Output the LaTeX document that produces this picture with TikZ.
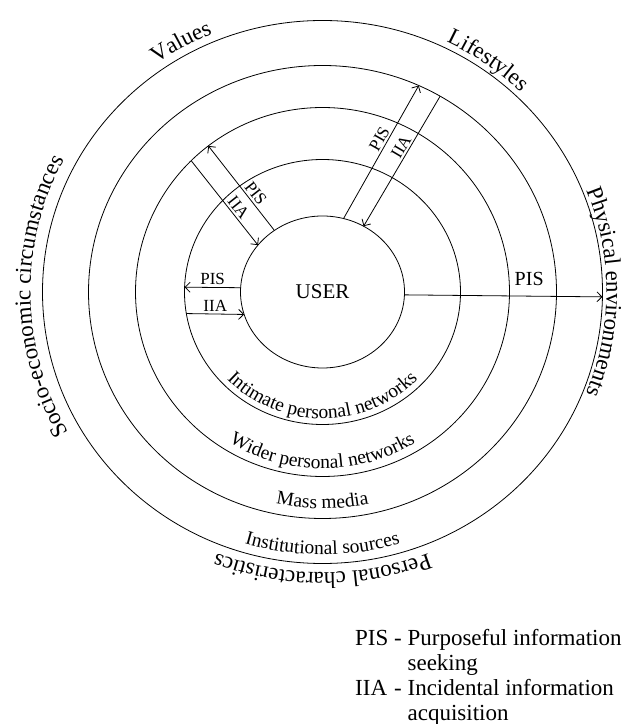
\documentclass[tikz,border=0pt]{standalone}
\usepackage{fontspec}
\setmainfont{Liberation Serif}
\usetikzlibrary{shapes.geometric,arrows.meta,decorations.text}
\newcommand\ringfont{\fontsize{19.5}{21}\selectfont}
\newcommand\rimfont{\fontsize{23}{25}\selectfont}
\begin{document}
\begin{tikzpicture}[x=1pt,y=1pt,
  ring/.style={draw, ellipse, inner sep=0pt, outer sep=0pt, line width=0.8pt},
  flow/.style={line width=0.8pt, -{Straight Barb[length=5pt,width=10pt]}},
  tag/.style={font=\fontsize{17}{17}\selectfont, inner sep=2pt},
  along/.style={decorate, decoration={text along path, text align=center, text={#1}}}]
\useasboundingbox (0,0) rectangle (642,724);
\coordinate (c) at (322.5,432);

% concentric information environments
\node[ring, minimum width=560pt, minimum height=543pt] (r4) at (c) {};
\node[ring, minimum width=468pt, minimum height=453pt] (r3) at (c) {};
\node[ring, minimum width=374pt, minimum height=369pt] (r2) at (c) {};
\node[ring, minimum width=276pt, minimum height=265pt] (r1) at (c) {};
\node[ring, minimum width=164pt, minimum height=152pt,
      font=\fontsize{21}{21}\selectfont] (user) at (c) {USER};

% ring names along the lower arcs
\path[shift={(c)}, along={|\ringfont|Intimate personal networks}]
  (200:132 and 126.5) arc[start angle=200, end angle=340, x radius=132, y radius=126.5];
\path[shift={(c)}, along={|\ringfont|Wider personal networks}]
  (210:179 and 176.5) arc[start angle=210, end angle=330, x radius=179, y radius=176.5];
\path[shift={(c)}, along={|\ringfont|Mass media}]
  (220:224 and 216.5) arc[start angle=220, end angle=320, x radius=224, y radius=216.5];
\path[shift={(c)}, along={|\ringfont|Institutional sources}]
  (225:271 and 262.5) arc[start angle=225, end angle=315, x radius=271, y radius=262.5];

% contextual factors round the outside (clockwise)
\path[shift={(c)}, along={|\rimfont|Values}]
  (150:288 and 279.5) arc[start angle=150, end angle=88, x radius=288, y radius=279.5];
\path[shift={(c)}, along={|\rimfont|Lifestyles}]
  (85:286 and 277.5) arc[start angle=85, end angle=25, x radius=286, y radius=277.5];
\path[shift={(c)}, along={|\rimfont|Physical environments}]
  (40:284 and 275.5) arc[start angle=40, end angle=-40, x radius=284, y radius=275.5];
\path[shift={(c)}, along={|\rimfont|Personal characteristics}]
  (310:289 and 280.5) arc[start angle=310, end angle=230, x radius=289, y radius=280.5];
\path[shift={(c)}, along={|\rimfont|Socio-economic circumstances}]
  (240:292 and 283.5) arc[start angle=240, end angle=122, x radius=292, y radius=283.5];

% information flows
\draw[flow] (user.177.9) -- node[tag, above] {PIS} (r1.178.75);
\draw[flow] (r1.189.6) -- node[tag, above] {IIA} (user.196.4);
\draw[flow] (user.128.2) -- node[tag, sloped, above, pos=0.38] {PIS} (r2.128.2);
\draw[flow] (r2.135.3) -- node[tag, sloped, above, pos=0.615] {IIA} (user.144.9);
\draw[flow] (user.74.1) -- node[tag, sloped, above, pos=0.57] {PIS} (r3.65.0);
\draw[flow] (r3.59.75) -- node[tag, sloped, above, pos=0.42] {IIA} (user.58.3);
\draw[flow] (user.358.4) -- node[tag, font=\fontsize{20}{20}\selectfont, above=8pt, pos=0.63] {PIS} (r4.359.53);

% key
\node[anchor=north west, inner sep=0pt, font=\rimfont] (key) at (355,96.5)
  {\begin{tabular}{@{}l@{\ }c@{\ }l@{}}
   PIS & - & Purposeful information\\
       &   & seeking\\
   IIA & - & Incidental information\\
       &   & acquisition
   \end{tabular}};
\end{tikzpicture}
\end{document}
